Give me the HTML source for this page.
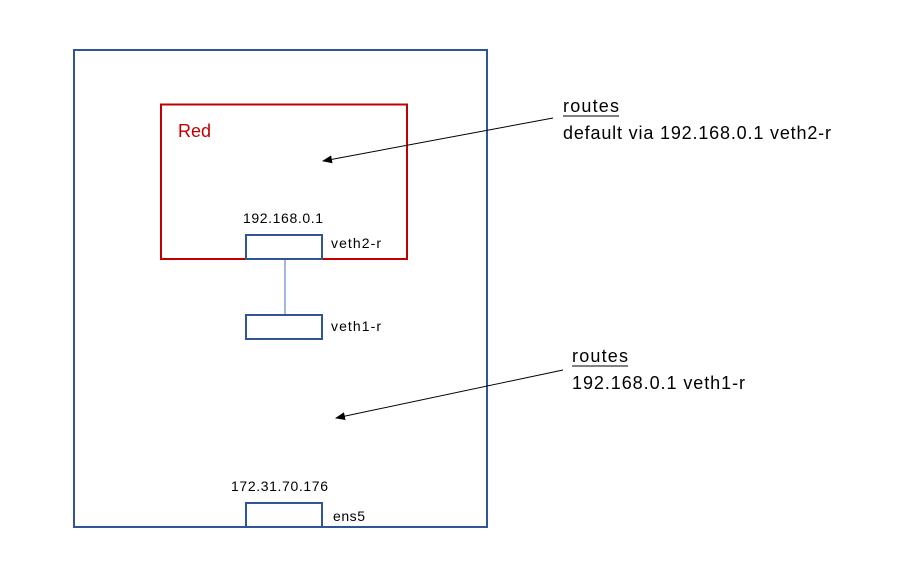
<!DOCTYPE html>
<html><head><meta charset="utf-8"><style>
html,body{margin:0;padding:0;background:#fff;}
svg{display:block;}
text{font-family:"Liberation Sans",sans-serif;fill:#000;}
</style></head><body>
<svg width="924" height="580" viewBox="0 0 924 580" xmlns="http://www.w3.org/2000/svg">
<defs>
<marker id="ah" markerWidth="10" markerHeight="8" refX="9" refY="4" orient="auto" markerUnits="userSpaceOnUse">
<path d="M0,0 L10,4 L0,8 Z" fill="#000"/>
</marker>
</defs>
<rect x="74" y="50" width="413" height="477" fill="none" stroke="#2f5597" stroke-width="2"/>
<rect x="161" y="104.5" width="246" height="154.5" fill="none" stroke="#c00000" stroke-width="2"/>
<line x1="285" y1="259" x2="285" y2="315" stroke="#4472c4" stroke-width="1"/>
<rect x="246" y="235" width="76" height="24" fill="#fff" stroke="#2f5597" stroke-width="2"/>
<rect x="246" y="315" width="76" height="24" fill="#fff" stroke="#2f5597" stroke-width="2"/>
<rect x="246" y="503" width="76" height="24" fill="#fff" stroke="#2f5597" stroke-width="2"/>
<text x="178" y="137" font-size="18" style="fill:#c00000" textLength="33">Red</text>
<text x="243" y="223" font-size="14" textLength="80">192.168.0.1</text>
<text x="331" y="248" font-size="14" textLength="50">veth2-r</text>
<text x="331" y="331" font-size="14" textLength="50">veth1-r</text>
<text x="231" y="491" font-size="14" textLength="97">172.31.70.176</text>
<text x="333" y="521" font-size="14" textLength="32">ens5</text>
<line x1="553" y1="118" x2="323" y2="161" stroke="#000" stroke-width="1" marker-end="url(#ah)"/>
<line x1="563" y1="370" x2="336" y2="418" stroke="#000" stroke-width="1" marker-end="url(#ah)"/>
<text x="563" y="112" font-size="18" textLength="56">routes</text>
<line x1="563" y1="116" x2="619" y2="116" stroke="#000" stroke-width="1"/>
<text x="563" y="139" font-size="18" textLength="268">default via 192.168.0.1 veth2-r</text>
<text x="572" y="362" font-size="18" textLength="56">routes</text>
<line x1="572" y1="366" x2="628" y2="366" stroke="#000" stroke-width="1"/>
<text x="572" y="389" font-size="18" textLength="173">192.168.0.1 veth1-r</text>
</svg>
</body></html>
